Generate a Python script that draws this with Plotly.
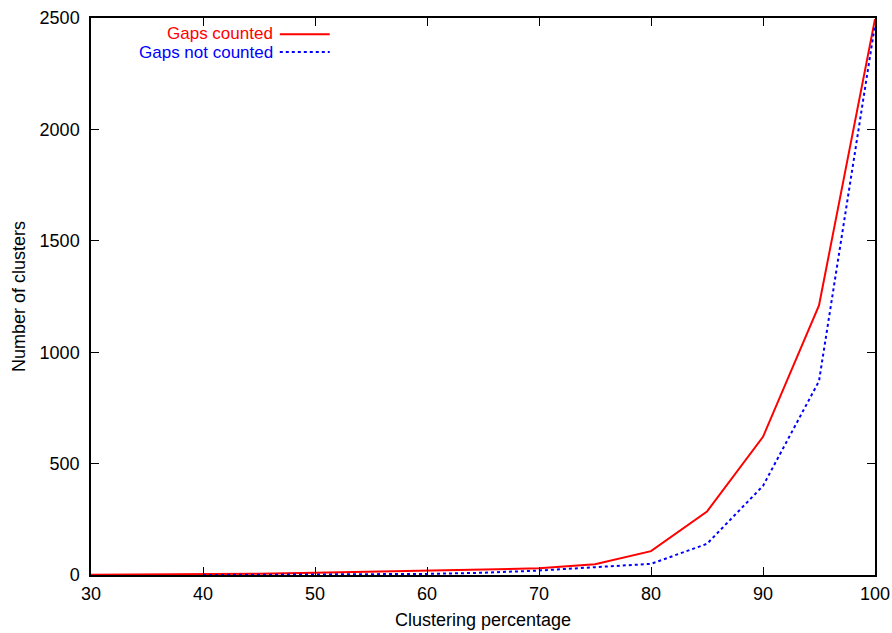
import plotly.graph_objects as go

x_pct = [30, 35, 40, 45, 50, 55, 60, 65, 70, 75, 80, 85, 90, 95, 100]
gaps_counted = [1, 2, 3, 6, 10, 15, 20, 24, 30, 48, 107, 285, 620, 1210, 2495]
x_pct_nc = [40, 45, 50, 55, 60, 65, 70, 75, 80, 85, 90, 95, 100]
gaps_not_counted = [0, 1, 2, 3, 5, 10, 20, 35, 50, 140, 400, 870, 2470]
x_ticks = [30, 40, 50, 60, 70, 80, 90, 100]
y_ticks = [0, 500, 1000, 1500, 2000, 2500]
series_names = ["Gaps counted", "Gaps not counted"]

FONT = "Liberation Sans, Arial, Helvetica, sans-serif"
FS = 18

fig = go.Figure()
fig.add_trace(go.Scatter(x=x_pct, y=gaps_counted, mode="lines", name=series_names[0],
                         line=dict(color="#ff0000", width=2), showlegend=False))
fig.add_trace(go.Scatter(x=x_pct_nc, y=gaps_not_counted, mode="lines", name=series_names[1],
                         line=dict(color="#0000ff", width=2, dash="dot"), showlegend=False))

axis_common = dict(showline=True, linecolor="black", linewidth=1.5, mirror="ticks",
                   ticks="inside", ticklen=8, tickcolor="black", tickwidth=1,
                   showgrid=False, zeroline=False, automargin=False,
                   tickfont=dict(family=FONT, size=FS, color="black"))
fig.update_xaxes(range=[30, 100], tickvals=x_ticks, **axis_common, ticklabelstandoff=2,
                 title=dict(text="Clustering percentage", font=dict(family=FONT, size=FS, color="black"), standoff=10))
fig.update_yaxes(range=[0, 2500], tickvals=y_ticks, **axis_common, ticklabelstandoff=6,
                 title=dict(text="Number of clusters", font=dict(family=FONT, size=FS, color="black"), standoff=9))

# legend drawn gnuplot-style: right-aligned text, sample on the right
legend_rows = [(series_names[0], "#ff0000", "solid", 0.971, 1), (series_names[1], "#0000ff", "dot", 0.939, -1)]
for name, col, dash, yp, ys in legend_rows:
    fig.add_annotation(xref="paper", yref="paper", x=0.229, y=yp, text=name, showarrow=False,
                       xanchor="right", yanchor="middle", xshift=3, yshift=ys, borderpad=0,
                       font=dict(family=FONT, size=17, color=col))
    fig.add_shape(type="line", xref="paper", yref="paper", x0=0.2408, x1=0.3045, y0=yp, y1=yp,
                  line=dict(color=col, width=2, dash=dash))

fig.update_layout(width=892, height=633, margin=dict(l=91, r=17, t=18, b=58),
                  paper_bgcolor="white", plot_bgcolor="white", showlegend=False,
                  font=dict(family=FONT, size=FS, color="black"))
fig.write_html("out.html", config={"displayModeBar": False},
               post_script="document.body.style.margin='0';document.body.style.overflow='hidden';")
